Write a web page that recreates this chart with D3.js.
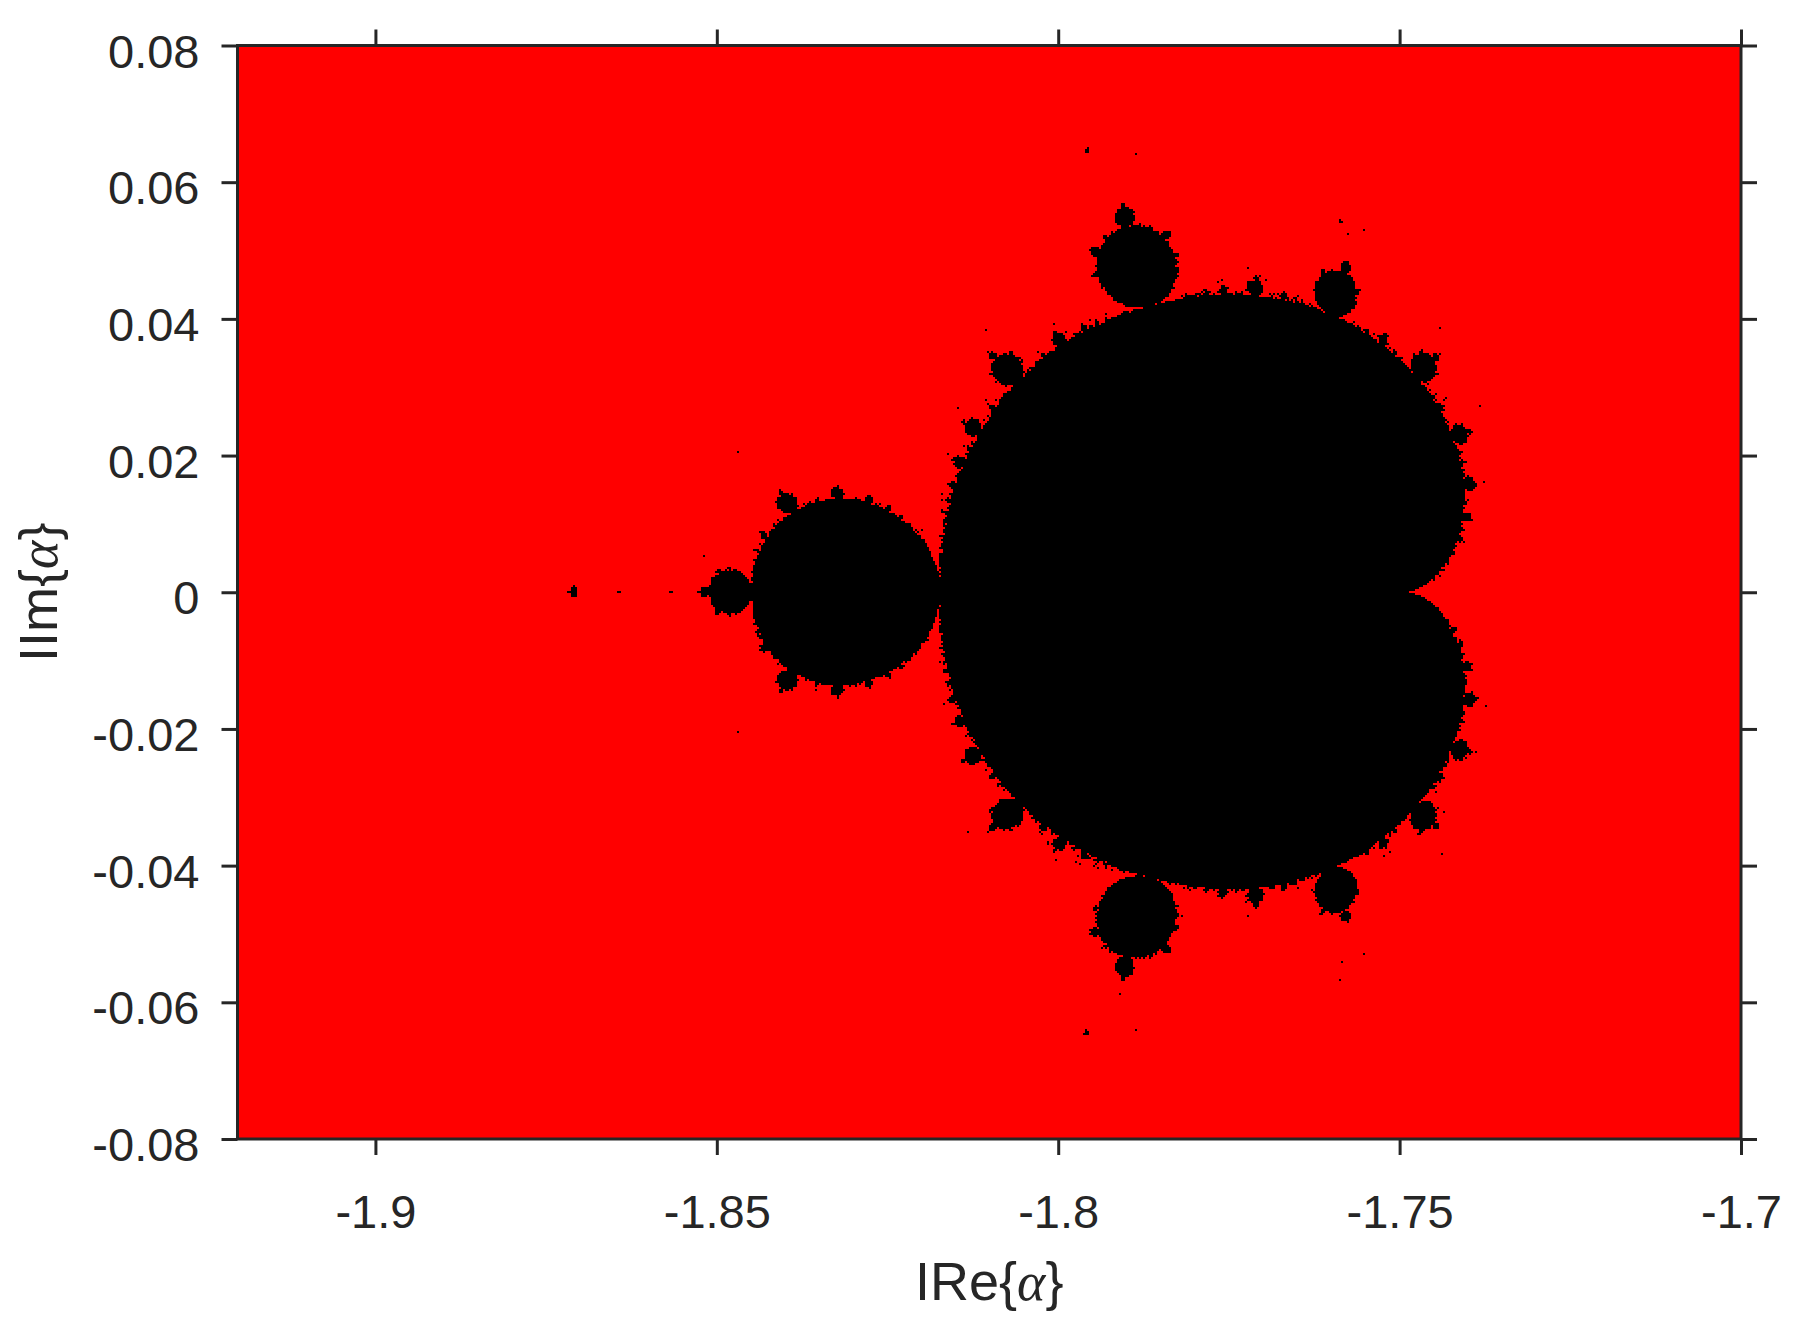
<!DOCTYPE html>
<html>
<head>
<meta charset="utf-8">
<script src="https://cdn.jsdelivr.net/npm/d3@7"></script>
<style>
  body { margin: 0; background: #fff; }
  svg { display: block; }
  text { font-family: "Liberation Sans", Arial, Helvetica, sans-serif; fill: #262626; }
</style>
</head>
<body>
<div id="chart"></div>
<script>
// axis ranges and ticks
const xDomain = [-1.9202, -1.7];
const yDomain = [-0.08, 0.08];
const xTicks = [-1.9, -1.85, -1.8, -1.75, -1.7];
const yTicks = [-0.08, -0.06, -0.04, -0.02, 0, 0.02, 0.04, 0.06, 0.08];
const xTickLabels = ['-1.9', '-1.85', '-1.8', '-1.75', '-1.7'];
const yTickLabels = ['-0.08', '-0.06', '-0.04', '-0.02', '0', '0.02', '0.04', '0.06', '0.08'];

// landmarks (alpha) and the matching points of the set (c)
const cusp = -1.7489;
const landmarkAlpha = [
    [-1.8180, 0], [-1.8445, 0], [-1.8514, 0], [-1.8708, 0],
    [-1.7887, 0.0477], [-1.75895, 0.0438], [-1.74626, 0.03232], [-1.74187, 0.0232],
    [-1.8075, 0.0322], [-1.8312, 0.0137], [-1.78986, 0.05501], [-1.79573, 0.06441]
];
const landmarkC = [
    [-0.75, 0], [-1.25, 0], [-1.3681, 0], [-1.757, 0],
    [-0.1226, 0.7449], [0.2822, 0.5301], [0.3795, 0.3349], [0.3890, 0.2158],
    [-0.5043, 0.5628], [-1.0, 0.25], [-0.1134, 0.8606], [-0.1565, 1.0323]
];
const cuspC = 0.25;
const maxIter = 200;
const cellPx = 2;

// set colours: escaped / bounded
const colours = ['#ff0000', '#000000'];

const width = 1798, height = 1323;
const margin = { left: 237.5, top: 45.5 };
const plotW = 1503.5, plotH = 1093.5;

const svg = d3.select('#chart').append('svg')
    .attr('width', width)
    .attr('height', height);

const x = d3.scaleLinear().domain(xDomain).range([margin.left, margin.left + plotW]);
const y = d3.scaleLinear().domain(yDomain).range([margin.top + plotH, margin.top]);

// smooth map (u, v) -> c, u = Re(alpha) - cusp, v = Im(alpha), symmetric in v
const reBasis = (u, v) => [u, u * u, u * u * u, v * v, u * v * v, v * v * v * v, u * u * v * v];
const imBasis = (u, v) => [v, u * v, u * u * v, v * v * v, u * v * v * v];

function leastSquares(rows, rhs) {
    const n = rows[0].length;
    const M = d3.range(n).map(() => d3.range(n + 1).map(() => 0));
    rows.forEach((row, k) => {
        for (let r = 0; r < n; r++) {
            for (let s = 0; s < n; s++) M[r][s] += row[r] * row[s];
            M[r][n] += row[r] * rhs[k];
        }
    });
    for (let r = 0; r < n; r++) {
        let piv = r;
        for (let q = r + 1; q < n; q++) if (Math.abs(M[q][r]) > Math.abs(M[piv][r])) piv = q;
        [M[r], M[piv]] = [M[piv], M[r]];
        for (let q = 0; q < n; q++) {
            if (q === r) continue;
            const f = M[q][r] / M[r][r];
            for (let s = r; s <= n; s++) M[q][s] -= f * M[r][s];
        }
    }
    return M.map((row, r) => row[n] / row[r]);
}

const reRows = [], reRhs = [], imRows = [], imRhs = [];
landmarkAlpha.forEach((p, i) => {
    const u = p[0] - cusp, v = p[1];
    reRows.push(reBasis(u, v));
    reRhs.push(landmarkC[i][0] - cuspC);
    if (v !== 0) {
        imRows.push(imBasis(u, v));
        imRhs.push(landmarkC[i][1]);
    }
});
const reCoef = leastSquares(reRows, reRhs);
const imCoef = leastSquares(imRows, imRhs);

// escape-time raster
const cols = Math.ceil(plotW / cellPx);
const rowsN = Math.ceil(plotH / cellPx);
const canvas = document.createElement('canvas');
canvas.width = cols;
canvas.height = rowsN;
const ctx = canvas.getContext('2d');
const img = ctx.createImageData(cols, rowsN);
const inside = d3.rgb(colours[1]);
const outside = d3.rgb(colours[0]);

for (let j = 0; j < rowsN; j++) {
    const v = y.invert(margin.top + (j + 0.5) * cellPx);
    for (let i = 0; i < cols; i++) {
        const u = x.invert(margin.left + (i + 0.5) * cellPx) - cusp;
        const rb = reBasis(u, v), ib = imBasis(u, v);
        let cr = cuspC, ci = 0;
        rb.forEach((b, k) => { cr += reCoef[k] * b; });
        ib.forEach((b, k) => { ci += imCoef[k] * b; });
        let zr = 0, zi = 0, n = 0;
        while (n < maxIter && zr * zr + zi * zi < 4) {
            const t = zr * zr - zi * zi + cr;
            zi = 2 * zr * zi + ci;
            zr = t;
            n++;
        }
        const col = n === maxIter ? inside : outside;
        const k = (j * cols + i) * 4;
        img.data[k] = col.r;
        img.data[k + 1] = col.g;
        img.data[k + 2] = col.b;
        img.data[k + 3] = 255;
    }
}
ctx.putImageData(img, 0, 0);

svg.append('image')
    .attr('x', margin.left)
    .attr('y', margin.top)
    .attr('width', plotW)
    .attr('height', plotH)
    .attr('preserveAspectRatio', 'none')
    .style('image-rendering', 'pixelated')
    .attr('href', canvas.toDataURL());

// axes
const tickLen = 16;
const fontSize = 47;

const bottom = svg.append('g')
    .attr('transform', `translate(0,${margin.top + plotH})`)
    .call(d3.axisBottom(x).tickValues(xTicks).tickSizeInner(tickLen).tickSizeOuter(0)
        .tickFormat((d, i) => xTickLabels[i]));
bottom.selectAll('text').attr('y', 89).attr('dy', 0).style('font-size', fontSize + 'px');

const left = svg.append('g')
    .attr('transform', `translate(${margin.left},0)`)
    .call(d3.axisLeft(y).tickValues(yTicks).tickSizeInner(tickLen).tickSizeOuter(0)
        .tickFormat((d, i) => yTickLabels[i]));
left.selectAll('text').attr('x', -38).attr('dy', '0.46em').style('font-size', fontSize + 'px');

svg.append('g')
    .attr('transform', `translate(0,${margin.top})`)
    .call(d3.axisTop(x).tickValues(xTicks).tickSizeInner(tickLen).tickSizeOuter(0).tickFormat(''));

svg.append('g')
    .attr('transform', `translate(${margin.left + plotW},0)`)
    .call(d3.axisRight(y).tickValues(yTicks).tickSizeInner(tickLen).tickSizeOuter(0).tickFormat(''));

svg.selectAll('.domain').remove();
svg.selectAll('.tick line').attr('stroke', '#262626').attr('stroke-width', 3);

svg.append('rect')
    .attr('x', margin.left)
    .attr('y', margin.top)
    .attr('width', plotW)
    .attr('height', plotH)
    .attr('fill', 'none')
    .attr('stroke', '#262626')
    .attr('stroke-width', 3);

// axis titles
const xLab = svg.append('text')
    .attr('x', margin.left + plotW / 2)
    .attr('y', 1300)
    .attr('text-anchor', 'middle')
    .style('font-size', '54px');
xLab.append('tspan').text('IRe{');
xLab.append('tspan').style('font-family', '"Liberation Serif", "DejaVu Serif", serif').style('font-style', 'italic').text('α');
xLab.append('tspan').text('}');

const yLab = svg.append('text')
    .attr('transform', `translate(57,${margin.top + plotH / 2}) rotate(-90)`)
    .attr('text-anchor', 'middle')
    .style('font-size', '54px');
yLab.append('tspan').text('IIm{');
yLab.append('tspan').style('font-family', '"Liberation Serif", "DejaVu Serif", serif').style('font-style', 'italic').text('α');
yLab.append('tspan').text('}');
</script>
</body>
</html>
